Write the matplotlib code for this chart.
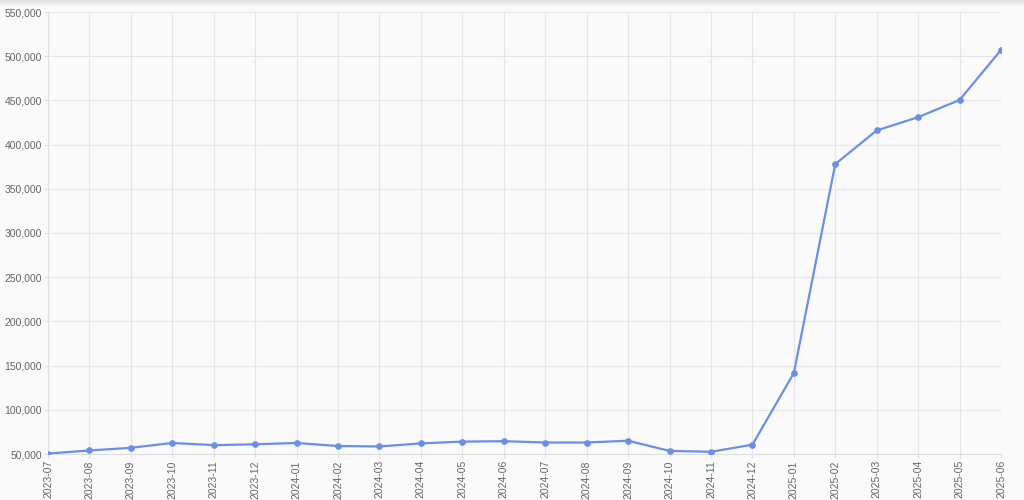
import matplotlib
matplotlib.use("Agg")
import matplotlib.pyplot as plt
import numpy as np
from matplotlib.ticker import FuncFormatter, MultipleLocator

months = ["2023-07", "2023-08", "2023-09", "2023-10", "2023-11", "2023-12",
          "2024-01", "2024-02", "2024-03", "2024-04", "2024-05", "2024-06",
          "2024-07", "2024-08", "2024-09", "2024-10", "2024-11", "2024-12",
          "2025-01", "2025-02", "2025-03", "2025-04", "2025-05", "2025-06"]
values = [50500, 54000, 57000, 62500, 60000, 61000,
          62500, 59000, 58500, 62000, 64000, 64500,
          63000, 63000, 65000, 53500, 52500, 60500,
          141500, 378000, 416000, 431000, 450500, 507000]

plt.rcParams["font.family"] = ["Liberation Sans", "DejaVu Sans"]

fig = plt.figure(figsize=(10.24, 5), dpi=100)
fig.patch.set_facecolor("#fafafa")

# soft shadow band along the top edge
shade = np.linspace(0.86, 0.98, 50).reshape(-1, 1)
bg = fig.add_axes([0, 0.985, 1, 0.015])
bg.imshow(shade, aspect="auto", cmap="gray", vmin=0, vmax=1, extent=[0, 1, 0, 1])
bg.axis("off")

ax = fig.add_axes([48 / 1024, 1 - 454 / 500, (1001 - 48) / 1024, (454 - 12) / 500])
ax.set_facecolor("#fafafa")

x = np.arange(len(months))
ax.plot(x, values, color="#6a8fe6", lw=1.6, marker="o", ms=3.8, zorder=3)

ax.set_xlim(0, len(months) - 1)
ax.set_ylim(50000, 550000)
ax.yaxis.set_major_locator(MultipleLocator(50000))
ax.yaxis.set_major_formatter(FuncFormatter(lambda v, p: f"{int(v):,}"))
ax.set_xticks(x)
ax.set_xticklabels(months, rotation=90)

ax.grid(True, color="#e6e6e6", lw=0.8)
ax.set_axisbelow(True)
for s in ["top", "right"]:
    ax.spines[s].set_visible(False)
for s in ["left", "bottom"]:
    ax.spines[s].set_color("#dddddd")
    ax.spines[s].set_linewidth(0.8)
ax.tick_params(axis="both", colors="#e0e0e0", length=3, width=0.8, pad=1.5,
               labelcolor="#666666", labelsize=7.5)

fig.savefig("out.png", dpi=100, facecolor=fig.get_facecolor())
